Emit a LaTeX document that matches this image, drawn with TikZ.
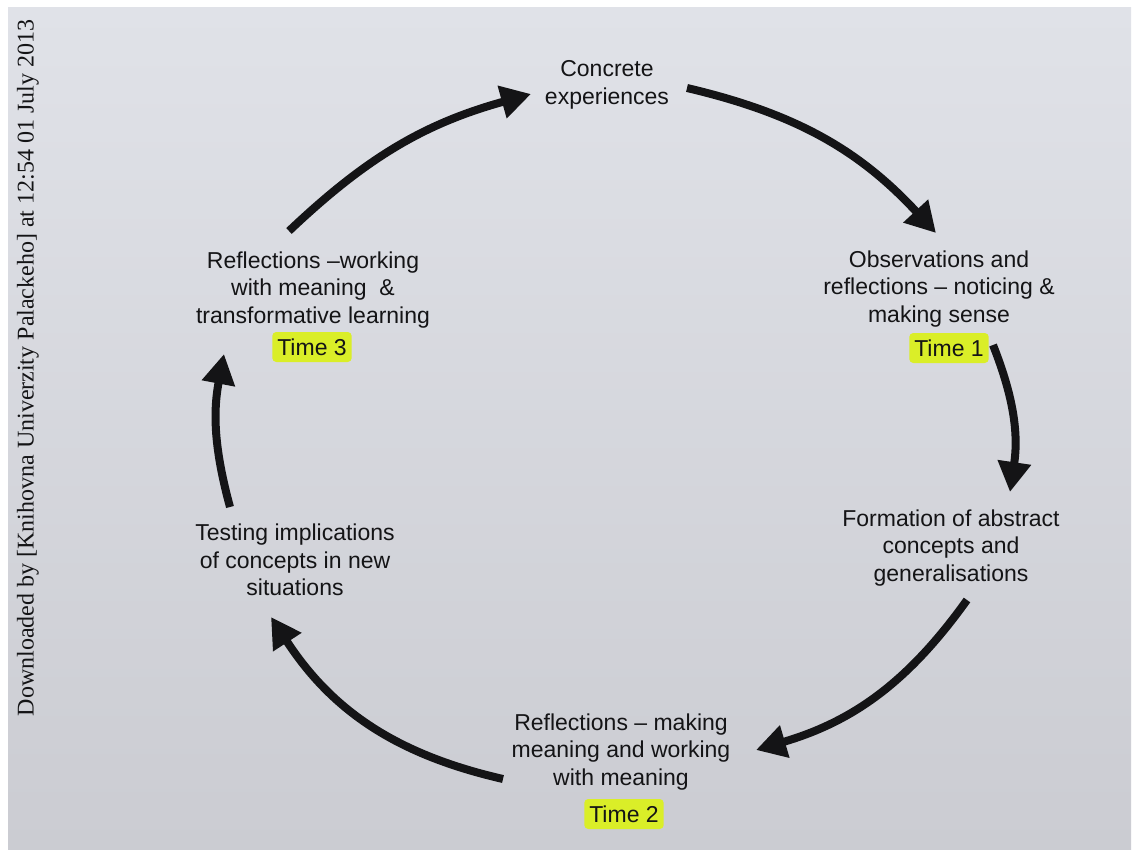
\documentclass[tikz,border=0pt]{standalone}
\usepackage{fontspec}
\setmainfont{Liberation Sans}
\newfontfamily\serifside{Liberation Serif}
\usetikzlibrary{arrows.meta}
\definecolor{ink}{RGB}{20,20,22}
\definecolor{hilite}{RGB}{218,238,40}
\definecolor{pagetop}{RGB}{224,226,232}
\definecolor{pagebot}{RGB}{203,204,210}
\tikzset{
  lbl/.style={align=center, text=ink, font=\fontsize{23}{27.5}\selectfont, inner sep=0pt},
  timelbl/.style={text=ink, fill=hilite, rounded corners=4pt, font=\fontsize{23}{27.5}\selectfont, inner xsep=5pt, inner ysep=3pt, minimum height=30pt},
  cyc/.style={line width=8pt, draw=ink, -{Triangle[length=30pt,width=32pt]}},
}
\begin{document}
\begin{tikzpicture}[x=1pt,y=-1pt]
\useasboundingbox (0,0) rectangle (1136,856);
\fill[white] (0,0) rectangle (1136,856);
\shade[top color=pagetop, bottom color=pagebot] (8,8) rectangle (1131,849);

% side text
\node[rotate=90, text=ink, font=\serifside\fontsize{24}{26}\selectfont, inner sep=0pt] (side) at (28,368) {Downloaded by [Knihovna Univerzity Palackeho] at 12:54 01 July 2013};

% labels
\node[lbl] (ce) at (607,85) {Concrete\\experiences};
\node[lbl] (ob) at (939,289) {Observations and\\reflections -- noticing \&\\making sense};
\node[timelbl] (t1) at (949,348) {Time 1};
\node[lbl] (fa) at (951,548) {Formation of abstract\\concepts and\\generalisations};
\node[lbl] (rm) at (621,752) {Reflections -- making\\meaning and working\\with meaning};
\node[timelbl] (t2) at (624,814) {Time 2};
\node[lbl] (ti) at (295,560) {Testing implications\\of concepts in new\\situations};
\node[lbl] (rw) at (313,290) {Reflections --working\\with meaning\ \ \&\\transformative learning};
\node[timelbl] (t3) at (312,347) {Time 3};

% arrow end points
\coordinate (a1s) at (289,231);
\coordinate (a1e) at (531,94);
\coordinate (a2s) at (687,88);
\coordinate (a2e) at (936,233);
\coordinate (a3s) at (993,345);
\coordinate (a3e) at (1010,492);
\coordinate (a4s) at (967,600);
\coordinate (a4e) at (756,750);
\coordinate (a5s) at (503,779);
\coordinate (a5e) at (271,617);
\coordinate (a6s) at (230,507);
\coordinate (a6e) at (224,354);

\draw[cyc] (a1s) to[bend left=14] (a1e);
\draw[cyc] (a2s) to[bend left=17] (a2e);
\draw[cyc] (a3s) to[bend left=15] (a3e);
\draw[cyc] (a4s) to[bend left=19] (a4e);
\draw[cyc] (a5s) to[bend left=22] (a5e);
\draw[cyc] (a6s) to[bend left=13] (a6e);
\end{tikzpicture}
\end{document}
